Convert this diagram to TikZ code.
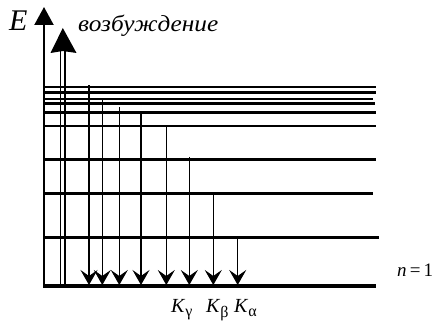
\documentclass[tikz,border=0pt]{standalone}
\usepackage{fontspec}
\setmainfont{Liberation Serif}
\usetikzlibrary{arrows.meta}
\begin{document}
\begin{tikzpicture}[x=1pt,y=-1pt,
  level/.style={line width=2.8pt},
  axis/.style={line width=2.2pt,-{Triangle[width=19pt,length=18pt]}},
  trans/.style={line width=1.1pt,-{Stealth[length=15pt,width=17pt,inset=6pt]}},
  lbl/.style={inner sep=0pt,font=\fontsize{20}{22}\selectfont}]
\useasboundingbox (0,0) rectangle (432,326);
% ground level and axis
\coordinate (o) at (44,286);
\coordinate (gr) at (376,286);
\draw[line width=3.2pt] (o) -- (gr);
\coordinate (etop) at (44,7);
\draw[axis] (44,287.6) -- (etop);
% excitation double arrow
\coordinate (xt) at (62.8,28);
\draw[line width=1.4pt] (60.5,284) -- (60.5,50);
\draw[line width=1.4pt] (65,284) -- (65,50);
\fill (xt) -- (50.5,53) -- (62.8,51) -- (76.5,53) -- cycle;
% levels
\foreach \y/\xe in {87/376,92.7/376,99/373,103.7/375,112.3/376,126/376,159.3/376,193.3/373,237.7/379}
  \draw[level] (44,\y) -- (\xe,\y);
% transitions
\foreach \x/\ys [count=\i] in {89/85.5,102.3/99,119.3/107,141/113,166.3/126,189.3/157,213.3/193.3,237.7/236.5}{
  \coordinate (s\i) at (\x,\ys);
  \coordinate (e\i) at (\x,285);
  \draw[trans] (s\i) -- (e\i);
}
% labels
\node[lbl,font=\fontsize{30}{32}\selectfont,anchor=base west] (E) at (9,31) {\textit{E}};
\node[lbl,font=\fontsize{23}{25}\selectfont,anchor=base west,xscale=1.1] (exc) at (78,32) {\textit{возбуждение}};
\node[lbl,font=\fontsize{19}{21}\selectfont,anchor=base west] (n1) at (397,277) {\textit{n}\,=\,1};
\node[lbl,anchor=base west] (kg) at (171,313) {\textit{K}\textsubscript{\fontsize{16}{16}\selectfont γ}};
\node[lbl,anchor=base west] (kb) at (206,313) {\textit{K}\textsubscript{\fontsize{16}{16}\selectfont β}};
\node[lbl,anchor=base west] (ka) at (234,313) {\textit{K}\textsubscript{\fontsize{16}{16}\selectfont α}};
\end{tikzpicture}
\end{document}
